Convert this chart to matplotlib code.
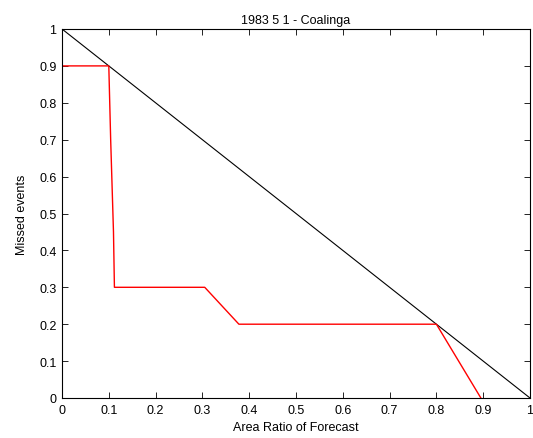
import numpy as np
import matplotlib
matplotlib.use('Agg')
from matplotlib import pyplot as plt

# red curve (area ratio vs missed events)
area_ratio = [0.0, 0.1, 0.104, 0.11, 0.112, 0.115, 0.305, 0.378, 0.8, 0.895]
missed = [0.9, 0.9, 0.7, 0.45, 0.3, 0.3, 0.3, 0.2, 0.2, 0.0]
# diagonal reference
diag_x = [0, 1]
diag_y = [1, 0]

ticks = np.round(np.arange(0, 1.01, 0.1), 1)
tick_labels = ['0', '0.1', '0.2', '0.3', '0.4', '0.5', '0.6', '0.7', '0.8', '0.9', '1']

plt.rcParams['font.family'] = ['Liberation Sans', 'DejaVu Sans']
fig = plt.figure(figsize=(5.33, 4.39), dpi=100)
ax = fig.add_axes([62/533, 1 - 399/439, 468/533, 369/439])

ax.plot(diag_x, diag_y, color='black', lw=0.8)
ax.plot(area_ratio, missed, color='red', lw=1.0)

ax.set_xlim(0, 1)
ax.set_ylim(0, 1)
ax.set_xticks(ticks)
ax.set_xticklabels(tick_labels)
ax.set_yticks(ticks)
ax.set_yticklabels(tick_labels)
ax.tick_params(direction='in', top=True, right=True, length=4, width=0.6, labelsize=9, pad=4)
for s in ax.spines.values():
    s.set_linewidth(0.8)

ax.set_title('1983 5 1 - Coalinga', fontsize=9, pad=4)
ax.set_xlabel('Area Ratio of Forecast', fontsize=9, labelpad=4)
ax.set_ylabel('Missed events', fontsize=9, labelpad=8)

fig.savefig('out.png', dpi=100)
